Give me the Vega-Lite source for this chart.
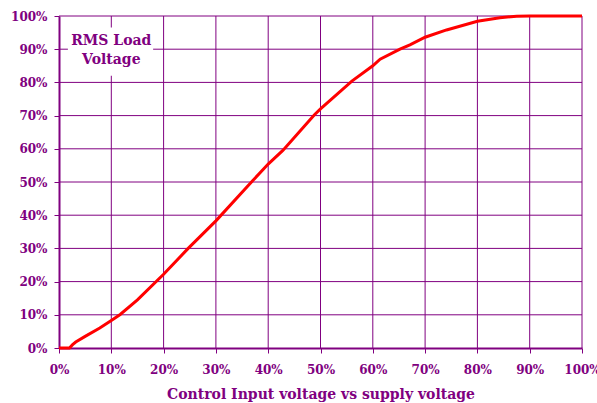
{
  "$schema": "https://vega.github.io/schema/vega-lite/v6.json",
  "autosize": {"type": "none"},
  "width": 523,
  "height": 332,
  "padding": {"left": 59, "top": 16, "right": 15, "bottom": 55},
  "background": "white",
  "config": {
    "view": {"stroke": null},
    "axis": {
      "labelFont": "DejaVu Serif",
      "labelFontWeight": "bold",
      "labelFontSize": 12,
      "labelColor": "#800080",
      "titleFont": "DejaVu Serif",
      "titleFontWeight": "bold",
      "titleFontSize": 14,
      "titleColor": "#800080",
      "grid": false,
      "domainColor": "#800080",
      "domainWidth": 2,
      "tickColor": "#800080",
      "tickWidth": 1,
      "tickSize": 5,
      "labelOverlap": false,
      "tickCount": 20,
      "zindex": 0
    },
    "axisY": {"labelPadding": 7},
    "axisX": {"labelPadding": 11, "titlePadding": 12}
  },
  "datasets": {
    "grid": [
      {"v": 10}, {"v": 20}, {"v": 30}, {"v": 40}, {"v": 50}, {"v": 60}, {"v": 70}, {"v": 80}, {"v": 90}, {"v": 100}
    ],
    "curve": [
      {"x": 0, "y": 0}, {"x": 2, "y": 0}, {"x": 2.6, "y": 1}, {"x": 3.2, "y": 1.8},
      {"x": 5, "y": 3.5}, {"x": 7.8, "y": 6}, {"x": 10, "y": 8.3}, {"x": 11.7, "y": 10.1},
      {"x": 15, "y": 14.5}, {"x": 20, "y": 22.2}, {"x": 24.7, "y": 30}, {"x": 30, "y": 38.3},
      {"x": 36.8, "y": 50}, {"x": 40, "y": 55.4}, {"x": 42.8, "y": 59.5}, {"x": 48.8, "y": 70.2},
      {"x": 50, "y": 72}, {"x": 56, "y": 80.4}, {"x": 60, "y": 85}, {"x": 61.4, "y": 87},
      {"x": 65.2, "y": 90}, {"x": 67.1, "y": 91.3}, {"x": 70, "y": 93.6}, {"x": 74.1, "y": 95.8},
      {"x": 80, "y": 98.4}, {"x": 84.3, "y": 99.5}, {"x": 87.5, "y": 99.9}, {"x": 90, "y": 100},
      {"x": 100, "y": 100}
    ],
    "label": [
      {"x": 1.7, "x2": 18, "y": 82, "y2": 96.5, "tx": 10, "ty": 92.6, "text": "RMS Load\nVoltage"}
    ]
  },
  "layer": [
    {
      "data": {"name": "grid"},
      "mark": {"type": "rule", "color": "#800080", "strokeWidth": 1},
      "encoding": {
        "x": {
          "field": "v", "type": "quantitative",
          "scale": {"domain": [0, 100], "nice": false},
          "axis": {"values": [0,10,20,30,40,50,60,70,80,90,100], "tickCount": 20, "labelExpr": "datum.value + '%'", "title": "Control Input voltage vs supply voltage", "labelFlush": false}
        }
      }
    },
    {
      "data": {"name": "grid"},
      "mark": {"type": "rule", "color": "#800080", "strokeWidth": 1},
      "encoding": {
        "y": {
          "field": "v", "type": "quantitative",
          "scale": {"domain": [0, 100], "nice": false},
          "axis": {"values": [0,10,20,30,40,50,60,70,80,90,100], "tickCount": 20, "labelExpr": "datum.value + '%'", "title": null, "labelFlush": false}
        }
      }
    },
    {
      "data": {"name": "label"},
      "mark": {"type": "rect", "fill": "white", "opacity": 1},
      "encoding": {
        "x": {"field": "x", "type": "quantitative", "axis": {"values": [0,10,20,30,40,50,60,70,80,90,100], "tickCount": 20, "labelExpr": "datum.value + '%'", "title": "Control Input voltage vs supply voltage", "labelFlush": false}},
        "x2": {"field": "x2"},
        "y": {"field": "y", "type": "quantitative", "axis": {"values": [0,10,20,30,40,50,60,70,80,90,100], "tickCount": 20, "labelExpr": "datum.value + '%'", "title": null, "labelFlush": false}},
        "y2": {"field": "y2"}
      }
    },
    {
      "data": {"name": "label"},
      "mark": {"type": "text", "font": "DejaVu Serif", "fontWeight": "bold", "fontSize": 14, "color": "#800080", "lineBreak": "\n", "lineHeight": 19, "baseline": "middle", "align": "center"},
      "encoding": {
        "x": {"field": "tx", "type": "quantitative", "axis": {"values": [0,10,20,30,40,50,60,70,80,90,100], "tickCount": 20, "labelExpr": "datum.value + '%'", "title": "Control Input voltage vs supply voltage", "labelFlush": false}},
        "y": {"field": "ty", "type": "quantitative", "axis": {"values": [0,10,20,30,40,50,60,70,80,90,100], "tickCount": 20, "labelExpr": "datum.value + '%'", "title": null, "labelFlush": false}},
        "text": {"field": "text"}
      }
    },
    {
      "data": {"name": "curve"},
      "mark": {"type": "line", "color": "#FF0000", "strokeWidth": 3},
      "encoding": {
        "x": {"field": "x", "type": "quantitative", "axis": {"values": [0,10,20,30,40,50,60,70,80,90,100], "tickCount": 20, "labelExpr": "datum.value + '%'", "title": "Control Input voltage vs supply voltage", "labelFlush": false}},
        "y": {"field": "y", "type": "quantitative", "axis": {"values": [0,10,20,30,40,50,60,70,80,90,100], "tickCount": 20, "labelExpr": "datum.value + '%'", "title": null, "labelFlush": false}}
      }
    }
  ]
}
